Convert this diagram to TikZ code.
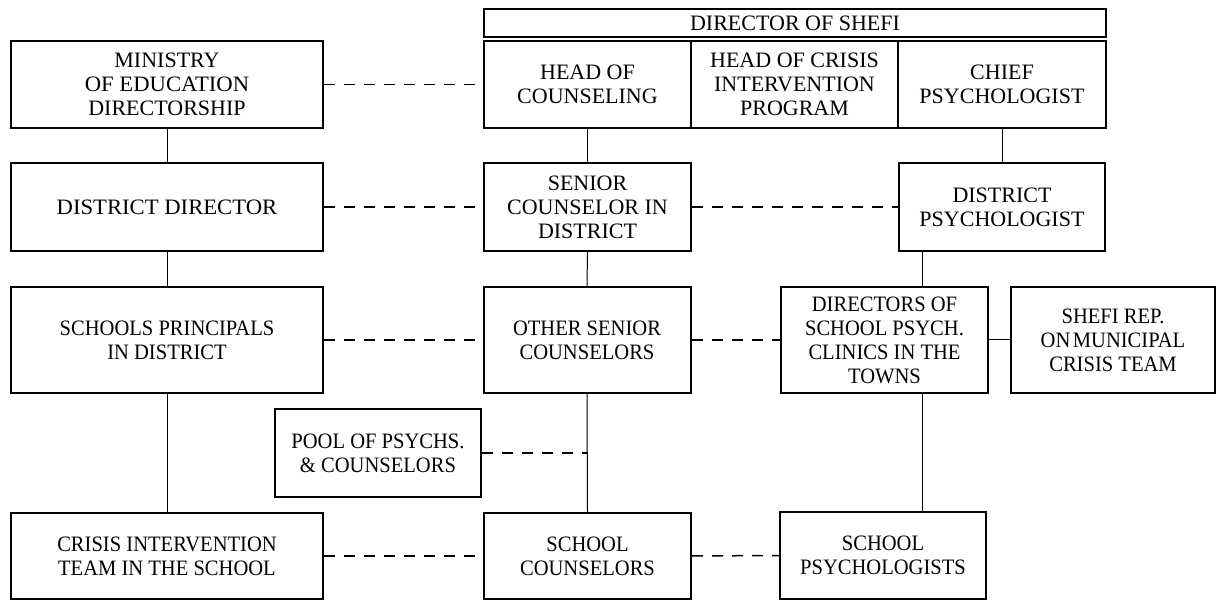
\documentclass[tikz,border=0pt]{standalone}
\usepackage{graphicx}
\usepackage{fontspec}
\setmainfont{Liberation Serif}
\newcommand\nar[1]{\scalebox{0.935}[1]{#1}}
\newcommand\wid[1]{\scalebox{1.03}[1]{#1}}
\begin{document}
\begin{tikzpicture}[x=1pt,y=-1pt,
  box/.style={draw, line width=2pt, inner sep=0pt, align=center,
    font=\fontsize{22}{24}\selectfont},
  solidlink/.style={line width=1pt},
  dashlink/.style={line width=1.5pt, dash pattern=on 11pt off 9pt}]
\useasboundingbox (0,0) rectangle (1216,601);
% top row
\node[box, minimum width=312pt, minimum height=87pt] (min) at (167,84.5) {MINISTRY\\\wid{OF EDUCATION}\\DIRECTORSHIP};
\node[box, minimum width=622pt, minimum height=28pt] (dir) at (795,23) {DIRECTOR OF SHEFI};
\node[box, minimum width=207pt, minimum height=87pt] (hoc) at (587.5,84.5) {HEAD OF\\COUNSELING};
\node[box, minimum width=207pt, minimum height=87pt] (hci) at (794.5,84.5) {HEAD OF CRISIS\\INTERVENTION\\PROGRAM};
\node[box, minimum width=208pt, minimum height=87pt] (cps) at (1002,84.5) {CHIEF\\PSYCHOLOGIST};
% second row
\node[box, minimum width=312pt, minimum height=88pt] (dd) at (167,207) {\wid{DISTRICT DIRECTOR}};
\node[box, minimum width=207pt, minimum height=88pt] (sc) at (587.5,207) {SENIOR\\COUNSELOR IN\\DISTRICT};
\node[box, minimum width=206pt, minimum height=88pt] (dp) at (1002,207) {DISTRICT\\PSYCHOLOGIST};
% third row
\node[box, minimum width=312pt, minimum height=106pt] (sp) at (167,340) {\nar{SCHOOLS PRINCIPALS}\\\nar{IN DISTRICT}};
\node[box, minimum width=207pt, minimum height=106pt] (os) at (587,340) {\nar{OTHER SENIOR}\\\nar{COUNSELORS}};
\node[box, minimum width=207pt, minimum height=106pt] (dsp) at (884.5,340) {\nar{DIRECTORS OF}\\\nar{SCHOOL PSYCH.}\\\nar{CLINICS IN THE}\\\nar{TOWNS}};
\node[box, minimum width=204pt, minimum height=106pt] (rep) at (1113,340) {\nar{SHEFI REP.}\\\nar{ON\hspace{0.12em}MUNICIPAL}\\\nar{CRISIS TEAM}};
% pool
\node[box, minimum width=206pt, minimum height=88pt] (pool) at (378,453) {\nar{POOL OF PSYCHS.}\\\nar{\& COUNSELORS}};
% bottom row
\node[box, minimum width=312pt, minimum height=86pt] (cit) at (167,556) {\nar{CRISIS INTERVENTION}\\\nar{TEAM IN THE SCHOOL}};
\node[box, minimum width=207pt, minimum height=86pt] (scs) at (587.5,556) {\nar{SCHOOL}\\\nar{COUNSELORS}};
\node[box, minimum width=206pt, minimum height=87pt] (sps) at (883,555.5) {\nar{SCHOOL}\\\nar{PSYCHOLOGISTS}};
% connectors
\draw[dashlink] (min.east) -- (hoc.west);
\draw[solidlink] (min.south) -- (dd.north);
\draw[solidlink] (hoc.south) -- (sc.north);
\draw[solidlink] (cps.south) -- (dp.north);
\draw[dashlink] (dd.east) -- (sc.west);
\draw[dashlink] (sc.east) -- (dp.west);
\draw[solidlink] (dd.south) -- (sp.north);
\draw[solidlink] (sc.south) -- (os.north);
\draw[solidlink] ([xshift=-80pt]dp.south) -- ([xshift=37.5pt]dsp.north);
\draw[dashlink] (sp.east) -- (os.west);
\draw[dashlink] (os.east) -- (dsp.west);
\draw[solidlink] (dsp.east) -- (rep.west);
\draw[solidlink] (sp.south) -- (cit.north);
\draw[solidlink] (os.south) -- (scs.north);
\coordinate (poolj) at (os.south |- pool.east);
\draw[dashlink] (pool.east) -- (poolj);
\draw[solidlink] ([xshift=37.5pt]dsp.south) -- ([xshift=39pt]sps.north);
\draw[dashlink] (cit.east) -- (scs.west);
\draw[dashlink] (scs.east) -- (sps.west);
\end{tikzpicture}
\end{document}
